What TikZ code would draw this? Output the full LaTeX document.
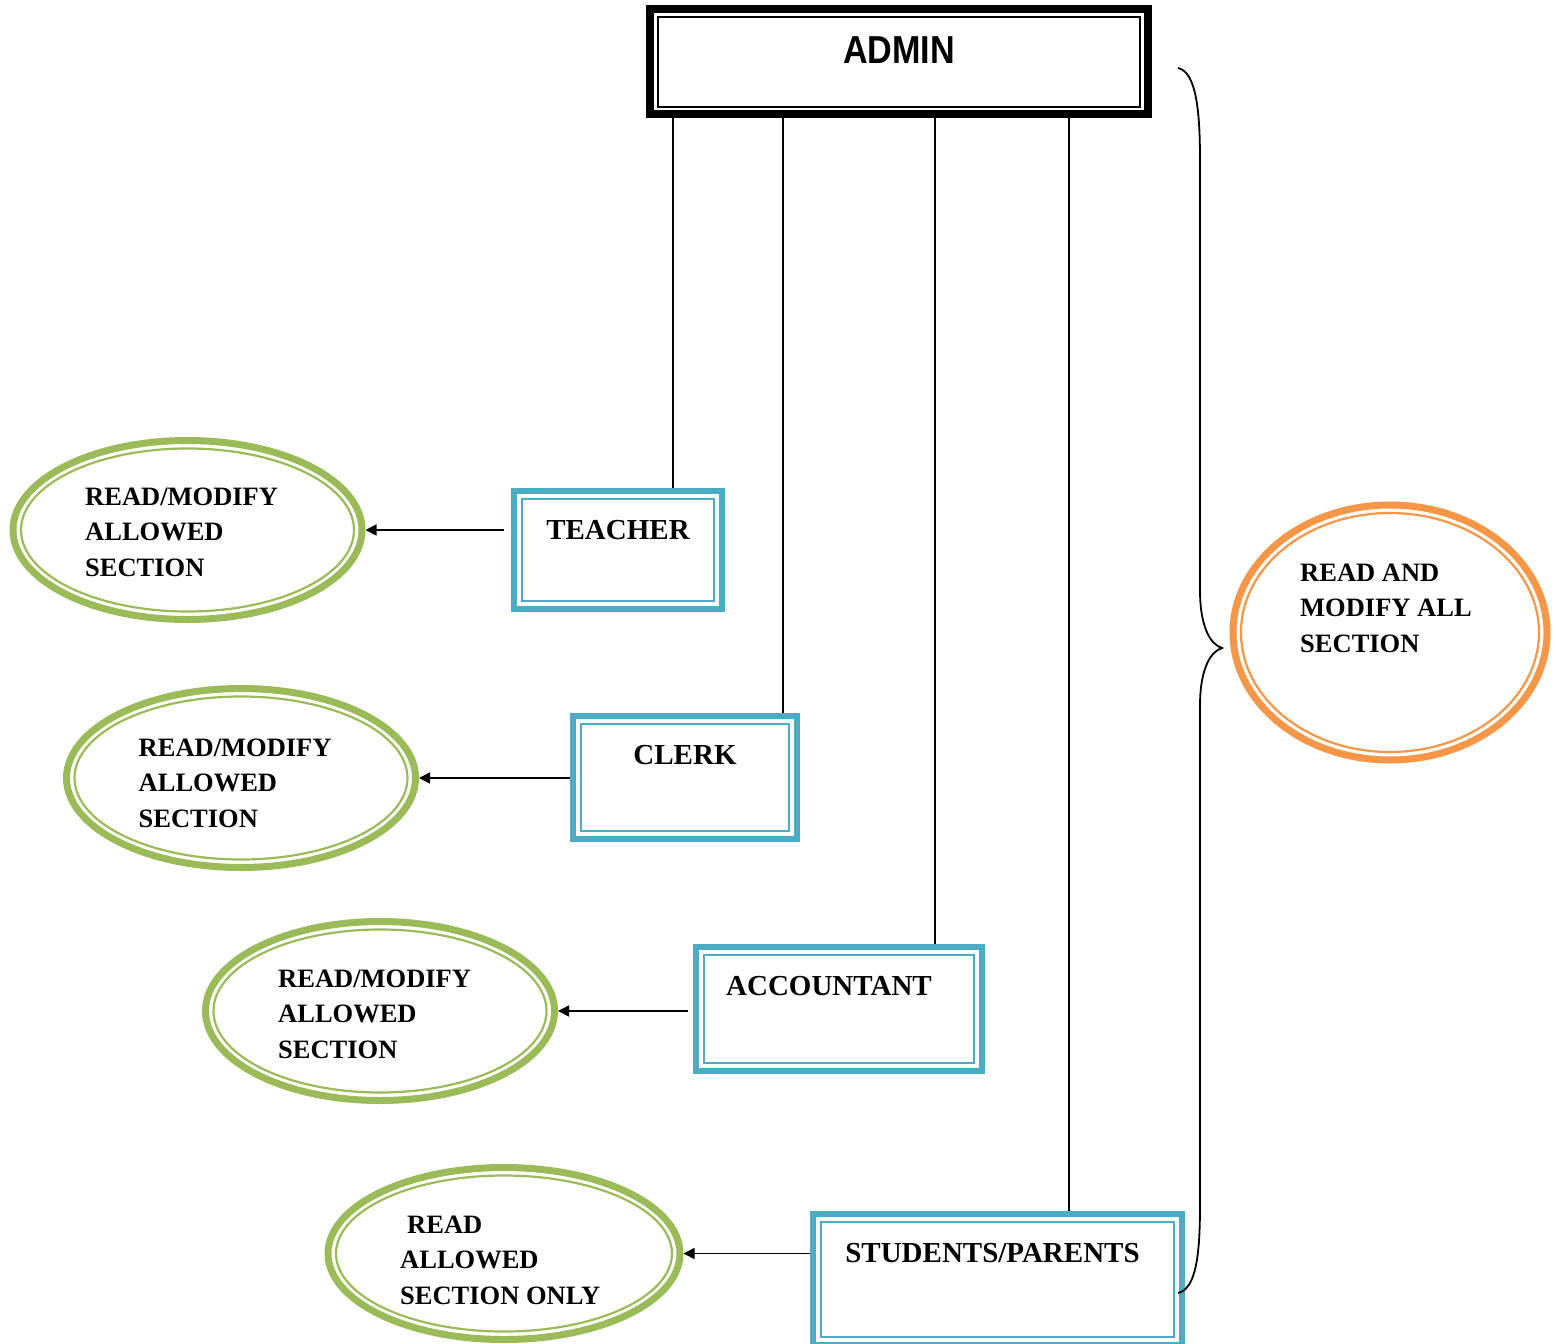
\documentclass[tikz,border=0pt]{standalone}
\usepackage{fontspec}
\setmainfont{Liberation Serif}
\newfontfamily\adminfont[FakeStretch=0.875]{Liberation Sans}
\usetikzlibrary{shapes.geometric,arrows.meta}
\definecolor{roleblue}{HTML}{4BACC6}
\definecolor{accgreen}{HTML}{9BBB59}
\definecolor{allorange}{HTML}{F79646}

\begin{document}
\begin{tikzpicture}[x=1pt,y=-1pt,
	role/.style={rectangle,draw=roleblue,line width=6pt,inner sep=0pt,anchor=base,text height=48pt,font=\bfseries\fontsize{29}{35.5}\selectfont},
	rolein/.style={draw=roleblue,line width=2pt},
	access/.style={ellipse,draw=accgreen,line width=7pt,inner sep=0pt,minimum width=349pt,minimum height=179pt},
	accessin/.style={draw=accgreen,line width=2.2pt},
	acctext/.style={align=left,anchor=base west,inner sep=0pt,font=\bfseries\fontsize{26.5}{35.5}\selectfont},
	link/.style={line width=1.6pt},
	arr/.style={line width=1.6pt,-{Triangle[length=11pt,width=11pt]}}]
	\fill[white] (0,0) rectangle (1556,1344);
	\useasboundingbox (0,0) rectangle (1556,1344);

	\node[rectangle,draw=black,line width=8pt,inner sep=0pt,minimum width=498pt,text height=54pt,text depth=51pt,anchor=base,font=\adminfont\bfseries\fontsize{39}{47}\selectfont] (admin) at (899, 63) {ADMIN};
	\draw[line width=2pt] ([shift={(12,12)}]admin.north west) rectangle ([shift={(-12,-11)}]admin.south east);

	\node[role,minimum width=207.5pt,text depth=70pt] (teacher)    at (618, 539)    {TEACHER};
	\node[role,minimum width=224pt,text depth=75pt]   (clerk)      at (685, 764)    {CLERK};
	\node[role,minimum width=286pt,text depth=76pt]   (accountant) at (839, 995)    {\hspace*{-20pt}ACCOUNTANT};
	\node[role,minimum width=369pt,text depth=83pt]   (students)   at (997.5, 1262) {\hspace*{-10pt}STUDENTS/PARENTS};
	\foreach \b in {teacher,clerk,accountant,students}
		\draw[rolein] ([shift={(11,11)}]\b.north west) rectangle ([shift={(-11,-11)}]\b.south east);

	\node[access] (e1) at (187.5, 530) {};
	\node[access] (e2) at (241, 778)   {};
	\node[access] (e3) at (380, 1011)  {};
	\node[access,minimum width=352pt,minimum height=172pt] (e4) at (504, 1253.5) {};
	\node[access,draw=allorange,minimum width=314pt,minimum height=255pt] (all) at (1390, 632.5) {};
	\foreach \e/\rx/\ry in {e1/166.5/81.5, e2/166.5/81.5, e3/166.5/81.5, e4/168/78}
		\draw[accessin] (\e.center) ellipse [x radius=\rx pt, y radius=\ry pt];
	\draw[accessin,draw=allorange] (all.center) ellipse [x radius=149pt, y radius=119.5pt];

	\node[acctext] (t1) at (85, 576)     {READ/MODIFY\\ALLOWED\\SECTION};
	\node[acctext] (t2) at (138.5, 827)  {READ/MODIFY\\ALLOWED\\SECTION};
	\node[acctext] (t3) at (278, 1058)   {READ/MODIFY\\ALLOWED\\SECTION};
	\node[acctext] (t4) at (400, 1304)   {\hspace*{7pt}READ\\ALLOWED\\SECTION ONLY};
	\node[acctext] (t5) at (1300, 652)   {READ AND\\MODIFY ALL\\SECTION};

	\foreach \b/\x in {teacher/673, clerk/783, accountant/935, students/1069}
		\draw[link] (admin.south -| \x,0) -- (\b.north -| \x,0);

	\draw[arr,shorten <=7pt] (teacher.west |- e1.east) -- (e1.east);
	\draw[arr] (clerk.west |- e2.east) -- (e2.east);
	\draw[arr,shorten <=5pt] (accountant.west |- e3.east) -- (e3.east);
	\draw[arr] (students.west |- e4.east) -- (e4.east);

	\coordinate (btop) at (1178, 68);
	\coordinate (btip) at (1222, 648);
	\coordinate (bbot) at (1178, 1293);
	\draw[line width=1.8pt] (btop) .. controls (1196,72) and (1200,110) .. (1200,160) -- (1200,590)
		.. controls (1200,630) and (1212,645) .. (btip)
		.. controls (1212,651) and (1200,666) .. (1200,706) -- (1200,1205)
		.. controls (1200,1255) and (1196,1289) .. (bbot);
\end{tikzpicture}
\end{document}
